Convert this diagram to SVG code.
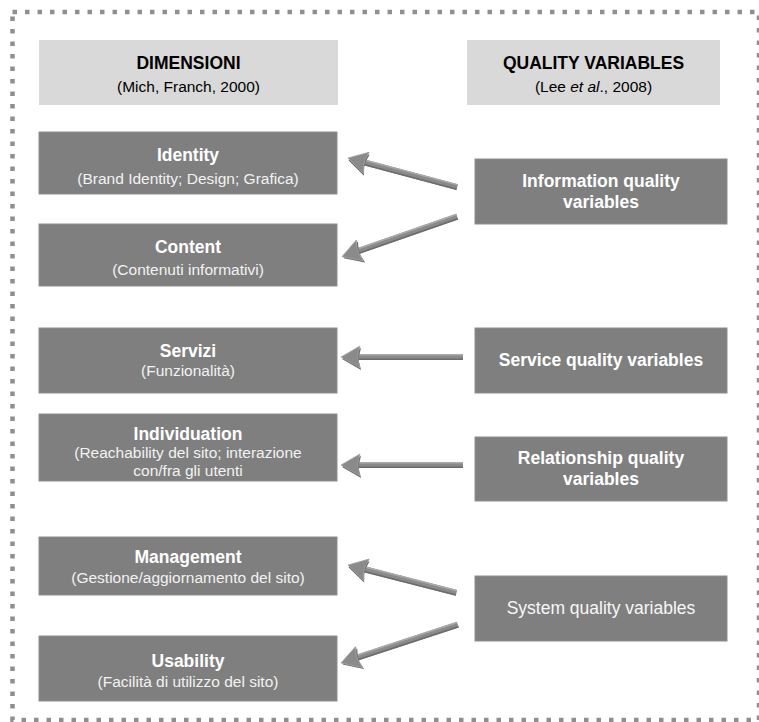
<svg xmlns="http://www.w3.org/2000/svg" xmlns:xlink="http://www.w3.org/1999/xlink" width="759" height="722" viewBox="0 0 759 722">
  <style>
    .frame { fill: none; stroke: #8f8f8f; stroke-width: 4.5; stroke-dasharray: 4.5 8; }
    .hdr { fill: #d9d9d9; }
    .box { fill: #7f7f7f; stroke: #8e8e8e; stroke-width: 1; }
    text { font-family: "Liberation Sans", Arial, sans-serif; text-anchor: middle; }
    .ht { font-size: 17.5px; font-weight: bold; fill: #000; }
    .hs { font-size: 15.5px; fill: #000; }
    .t { font-size: 17.5px; font-weight: bold; fill: #ffffff; }
    .s { font-size: 15.5px; fill: #f2f2f2; }
    .r { font-size: 17.5px; fill: #f7f7f7; }
    .shaft { fill: #8a8a8a; }
    .hi { fill: #aaaaaa; }
    .lo { fill: #6c6c6c; }
    .head { fill: #8a8a8a; stroke: #a3a3a3; stroke-width: 0.8; }
    .headsh { fill: #666666; }
  </style>
  <defs>
    <path id="ah" d="M0,0 L19,-11 L17,-3 L17,3 L19,11 Z"/>
  </defs>

  <rect class="frame" x="12.5" y="12" width="746.5" height="708"/>

  <g id="hdr-dimensioni">
    <rect class="hdr" x="39" y="40" width="299" height="65"/>
    <text class="ht" x="188.5" y="69">DIMENSIONI</text>
    <text class="hs" x="188.5" y="92">(Mich, Franch, 2000)</text>
  </g>
  <g id="hdr-quality">
    <rect class="hdr" x="467" y="40" width="253" height="65"/>
    <text class="ht" x="593.5" y="69">QUALITY VARIABLES</text>
    <text class="hs" x="593.5" y="92">(Lee <tspan font-style="italic">et al</tspan>., 2008)</text>
  </g>

  <g id="identity">
    <rect class="box" x="39" y="132" width="298" height="62"/>
    <text class="t" x="188" y="161">Identity</text>
    <text class="s" x="188" y="184">(Brand Identity; Design; Grafica)</text>
  </g>
  <g id="content">
    <rect class="box" x="39" y="224" width="298" height="62"/>
    <text class="t" x="188" y="253">Content</text>
    <text class="s" x="188" y="275">(Contenuti informativi)</text>
  </g>
  <g id="servizi">
    <rect class="box" x="39" y="328" width="298" height="65"/>
    <text class="t" x="188" y="357">Servizi</text>
    <text class="s" x="188" y="376">(Funzionalità)</text>
  </g>
  <g id="individuation">
    <rect class="box" x="39" y="414" width="298" height="67"/>
    <text class="t" x="188" y="440">Individuation</text>
    <text class="s" x="188" y="458">(Reachability del sito; interazione</text>
    <text class="s" x="188" y="476">con/fra gli utenti</text>
  </g>
  <g id="management">
    <rect class="box" x="39" y="537" width="298" height="58"/>
    <text class="t" x="188" y="563">Management</text>
    <text class="s" x="188" y="583">(Gestione/aggiornamento del sito)</text>
  </g>
  <g id="usability">
    <rect class="box" x="39" y="636" width="298" height="65"/>
    <text class="t" x="188" y="667">Usability</text>
    <text class="s" x="188" y="687">(Facilità di utilizzo del sito)</text>
  </g>

  <g id="info-quality">
    <rect class="box" x="475" y="159" width="252" height="65"/>
    <text class="t" x="601" y="187">Information quality</text>
    <text class="t" x="601" y="208">variables</text>
  </g>
  <g id="service-quality">
    <rect class="box" x="475" y="328" width="252" height="65"/>
    <text class="t" x="601" y="366">Service quality variables</text>
  </g>
  <g id="relationship-quality">
    <rect class="box" x="475" y="437" width="252" height="64"/>
    <text class="t" x="601" y="464">Relationship quality</text>
    <text class="t" x="601" y="485">variables</text>
  </g>
  <g id="system-quality">
    <rect class="box" x="475" y="576" width="252" height="65"/>
    <text class="r" x="601" y="614">System quality variables</text>
  </g>

  <g id="connectors">
    <g transform="translate(348,158) rotate(14.9)">
      <rect class="shaft" x="17" y="-3" width="96" height="6"/>
      <rect class="hi" x="17" y="-3" width="96" height="1.5"/>
      <rect class="lo" x="17" y="1.5" width="96" height="1.5"/>
      <use xlink:href="#ah" class="headsh" transform="translate(1,2)"/>
      <use xlink:href="#ah" class="head"/>
    </g>
    <g transform="translate(342,256.7) rotate(-19.2)">
      <rect class="shaft" x="17" y="-3" width="105" height="6"/>
      <rect class="hi" x="17" y="-3" width="105" height="1.5"/>
      <rect class="lo" x="17" y="1.5" width="105" height="1.5"/>
      <use xlink:href="#ah" class="headsh" transform="translate(1,2)"/>
      <use xlink:href="#ah" class="head"/>
    </g>
    <g transform="translate(341,357)">
      <rect class="shaft" x="17" y="-3" width="105" height="6"/>
      <rect class="hi" x="17" y="-3" width="105" height="1.5"/>
      <rect class="lo" x="17" y="1.5" width="105" height="1.5"/>
      <use xlink:href="#ah" class="headsh" transform="translate(1,2)"/>
      <use xlink:href="#ah" class="head"/>
    </g>
    <g transform="translate(341,465)">
      <rect class="shaft" x="17" y="-3" width="105" height="6"/>
      <rect class="hi" x="17" y="-3" width="105" height="1.5"/>
      <rect class="lo" x="17" y="1.5" width="105" height="1.5"/>
      <use xlink:href="#ah" class="headsh" transform="translate(1,2)"/>
      <use xlink:href="#ah" class="head"/>
    </g>
    <g transform="translate(348,565) rotate(14.4)">
      <rect class="shaft" x="17" y="-3" width="95" height="6"/>
      <rect class="hi" x="17" y="-3" width="95" height="1.5"/>
      <rect class="lo" x="17" y="1.5" width="95" height="1.5"/>
      <use xlink:href="#ah" class="headsh" transform="translate(1,2)"/>
      <use xlink:href="#ah" class="head"/>
    </g>
    <g transform="translate(341,663) rotate(-18.2)">
      <rect class="shaft" x="17" y="-3" width="106" height="6"/>
      <rect class="hi" x="17" y="-3" width="106" height="1.5"/>
      <rect class="lo" x="17" y="1.5" width="106" height="1.5"/>
      <use xlink:href="#ah" class="headsh" transform="translate(1,2)"/>
      <use xlink:href="#ah" class="head"/>
    </g>
  </g>
</svg>
